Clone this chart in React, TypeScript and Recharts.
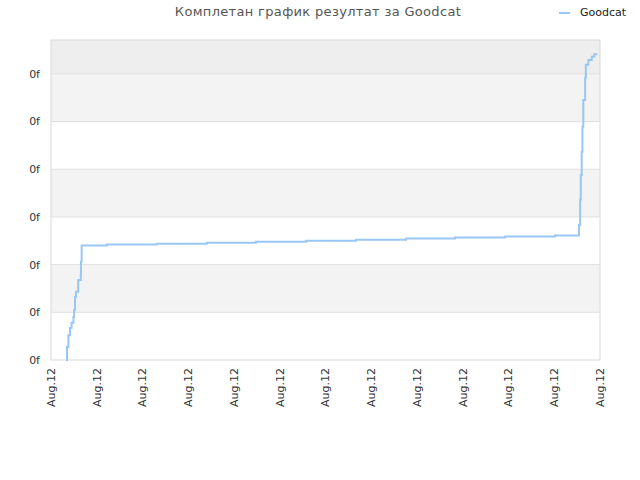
import React from 'react';
import {
  LineChart,
  Line,
  XAxis,
  YAxis,
  ReferenceArea,
  ReferenceLine,
} from 'recharts';

// time of day (hours on Aug 12) and score
const hours = [
  0.66, 0.7, 0.76, 0.83, 0.9, 0.98, 1.01, 1.05, 1.09, 1.19, 1.3, 1.31, 1.34,
  2.44, 4.62, 6.81, 8.96, 11.15, 13.33, 15.52, 17.66, 19.85, 22.03,
  23.08, 23.13, 23.16, 23.2, 23.23, 23.27, 23.35, 23.38, 23.49, 23.64, 23.75, 23.88,
];
const scores = [
  0, 0.27, 0.52, 0.67, 0.78, 0.9, 1.05, 1.32, 1.43, 1.68, 1.78, 2.06, 2.4,
  2.42, 2.44, 2.46, 2.48, 2.5, 2.52, 2.55, 2.57, 2.59, 2.61,
  2.83, 3.36, 3.88, 4.36, 4.89, 5.45, 5.92, 6.19, 6.29, 6.36, 6.41, 6.41,
];

const xTicks = [0, 2, 4, 6, 8, 10, 12, 14, 16, 18, 20, 22, 24];
const xTickLabel = 'Aug.12';
const yTicks = [0, 1, 2, 3, 4, 5, 6];
const yTickLabel = '0f';
const yTop = 6.71;

const seriesName = 'Goodcat';
const title = 'Комплетан график резултат за Goodcat';

const data = hours.map((h, i) => ({ h, score: scores[i] }));

// alternating stripes between y ticks, the top one a bit darker
const bands = [
  { y1: 6, y2: yTop, fill: '#eeeeee' },
  { y1: 5, y2: 6, fill: '#f3f3f3' },
  { y1: 3, y2: 4, fill: '#f3f3f3' },
  { y1: 1, y2: 2, fill: '#f3f3f3' },
];

const font = '"DejaVu Sans", sans-serif';

function XTick(props: any) {
  const { x, y } = props;
  return (
    <text
      x={x}
      y={y}
      dy="0.35em"
      transform={`rotate(-90, ${x}, ${y})`}
      textAnchor="end"
      fill="#333"
      fontSize={11}
      fontFamily={font}
    >
      {xTickLabel}
    </text>
  );
}

export default function App() {
  return (
    <div style={{ position: 'absolute', left: 0, top: 0, width: 640, height: 480, background: '#fff' }}>
      <div
        style={{
          position: 'absolute',
          top: 4,
          left: 0,
          width: 636,
          textAlign: 'center',
          fontFamily: font,
          fontSize: 13,
          letterSpacing: 0.33,
          color: '#555',
        }}
      >
        {title}
      </div>
      <div
        style={{
          position: 'absolute',
          top: 6,
          left: 559,
          fontFamily: font,
          fontSize: 11,
          color: '#222',
          display: 'flex',
          alignItems: 'center',
        }}
      >
        <span style={{ display: 'inline-block', width: 11, height: 2, background: '#99c7f5', marginRight: 10 }} />
        {seriesName}
      </div>
      <LineChart
        width={640}
        height={480}
        data={data}
        margin={{ top: 40, right: 40, bottom: 60, left: 0 }}
      >
        {bands.map((b, i) => (
          <ReferenceArea key={i} x1={0} x2={24} y1={b.y1} y2={b.y2} fill={b.fill} fillOpacity={1} stroke="none" />
        ))}
        {yTicks.slice(1).map((t) => (
          <ReferenceLine key={t} y={t} stroke="#e0e0e0" />
        ))}
        <ReferenceArea x1={0} x2={24} y1={0} y2={yTop} fill="none" stroke="#d9d9d9" />
        <XAxis
          dataKey="h"
          type="number"
          domain={[0, 24]}
          ticks={xTicks}
          height={60}
          axisLine={false}
          tickLine={false}
          tick={<XTick />}
          tickMargin={2}
          interval={0}
        />
        <YAxis
          type="number"
          domain={[0, yTop]}
          ticks={yTicks}
          width={51}
          axisLine={false}
          tickLine={false}
          tickMargin={5}
          tickFormatter={() => yTickLabel}
          tick={{ fill: '#333', fontSize: 11, fontFamily: font }}
          interval={0}
        />
        <Line
          type="stepAfter"
          dataKey="score"
          stroke="#99c7f5"
          strokeWidth={2}
          dot={false}
          isAnimationActive={false}
        />
      </LineChart>
    </div>
  );
}
